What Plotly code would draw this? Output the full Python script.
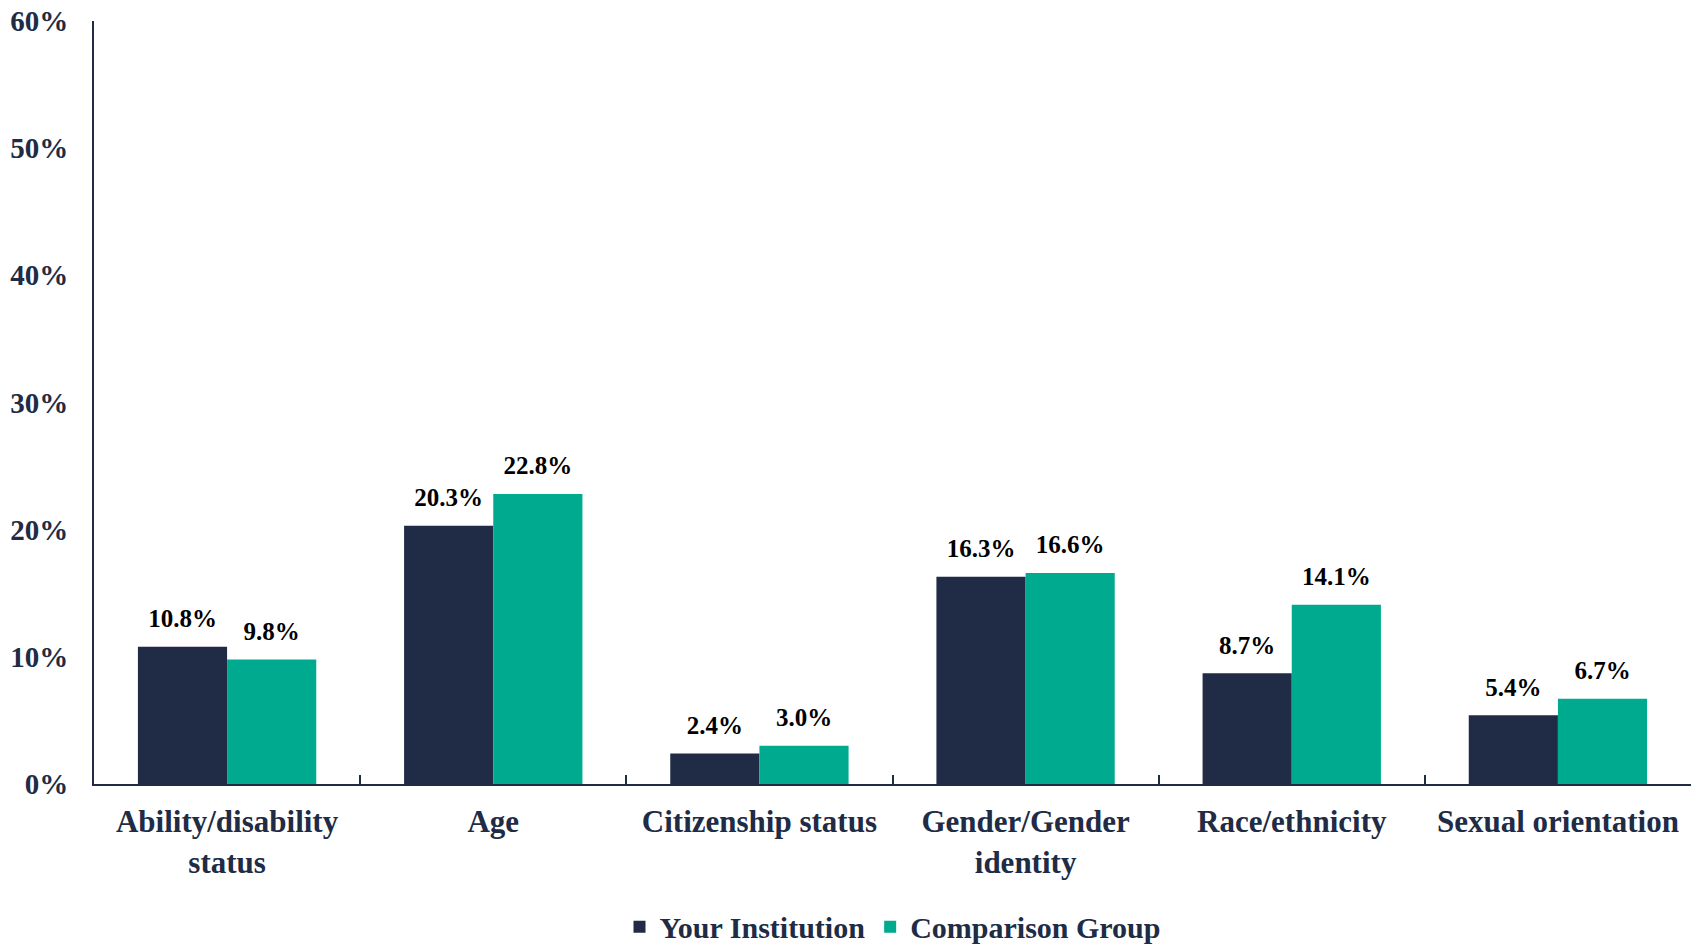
import plotly.graph_objects as go

categories = ["Ability/disability<br>status", "Age", "Citizenship status",
              "Gender/Gender<br>identity", "Race/ethnicity", "Sexual orientation"]
your_institution = [10.8, 20.3, 2.4, 16.3, 8.7, 5.4]
comparison_group = [9.8, 22.8, 3.0, 16.6, 14.1, 6.7]
y_ticks = [0, 10, 20, 30, 40, 50, 60]

NAVY = "#202B45"
TEAL = "#00AA8E"
FONT = "Liberation Serif"
GAP = 0.33

fig = go.Figure()
series = [("Your Institution", your_institution, NAVY, "a"),
          ("Comparison Group", comparison_group, TEAL, "b")]
for name, vals, col, grp in series:
    fig.add_trace(go.Bar(
        name=name, x=categories, y=vals, offsetgroup=grp,
        marker=dict(color=col, line=dict(width=0)),
    ))
for name, vals, col, grp in series:
    fig.add_trace(go.Scatter(
        x=categories, y=vals, offsetgroup=grp, mode="markers+text",
        marker=dict(size=20, opacity=0, color=col),
        text=[f"{v:.1f}%" for v in vals], textposition="top center",
        textfont=dict(family=FONT, size=25, color="black", weight="bold"),
        showlegend=False, hoverinfo="skip", cliponaxis=False,
    ))

fig.update_layout(
    width=1700, height=950,
    margin=dict(l=94, r=9, t=21, b=166, autoexpand=False),
    paper_bgcolor="white", plot_bgcolor="white",
    barmode="group", bargap=GAP, bargroupgap=0,
    scattermode="group", scattergap=GAP,
    font=dict(family=FONT, size=30, color=NAVY, weight="bold"),
    showlegend=True,
    legend=dict(orientation="h", x=0.5, xanchor="center", y=-0.187, yanchor="middle",
                font=dict(family=FONT, size=30, color=NAVY), traceorder="normal",
                itemwidth=30),
    xaxis=dict(
        showline=True, linecolor=NAVY, linewidth=2,
        ticks="inside", tickson="boundaries", ticklen=9, tickcolor=NAVY, tickwidth=2,
        tickfont=dict(family=FONT, size=31, color=NAVY, weight="bold"),
        ticklabelstandoff=9,
        showgrid=False,
    ),
    yaxis=dict(
        range=[0, 60], tickvals=y_ticks, ticktext=[f"{v}%" for v in y_ticks],
        showline=True, linecolor=NAVY, linewidth=2,
        showgrid=False, zeroline=False, ticks="",
        ticklabelstandoff=18,
        tickfont=dict(family=FONT, size=29, color=NAVY, weight="bold"),
    ),
)

fig.write_html("out.html", config={"displayModeBar": False},
               post_script="document.body.style.margin='0';")
